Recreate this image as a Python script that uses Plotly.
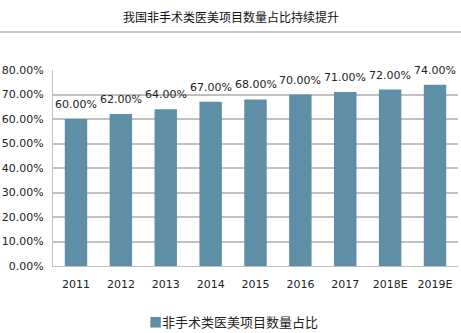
import plotly.graph_objects as go

categories = ["2011", "2012", "2013", "2014", "2015", "2016", "2017", "2018E", "2019E"]
values = [0.60, 0.62, 0.64, 0.67, 0.68, 0.70, 0.71, 0.72, 0.74]
series_name = "非手术类医美项目数量占比"
title = "我国非手术类医美项目数量占比持续提升"

W, H = 461, 333
ml, mr, mt, mb = 53, 3, 70, 67
pw, ph = W - ml - mr, H - mt - mb

font = "Noto Sans CJK SC, DejaVu Sans, sans-serif"
num_font = "DejaVu Sans, sans-serif"
bar_color = "#5f8fa6"

fig = go.Figure()
fig.add_trace(go.Bar(
    x=categories, y=values, name=series_name,
    marker=dict(color=bar_color, line=dict(width=0)),
    width=0.5, showlegend=False,
))

annotations = [
    dict(x=i, y=v, xref="x", yref="y", text=f"{v*100:.2f}%", showarrow=False,
         yanchor="bottom", yshift=6, font=dict(size=11, color="#222222", family=num_font))
    for i, v in enumerate(values)
]
annotations.append(dict(
    xref="paper", yref="paper", x=(233 - ml) / pw, y=(H - mb - 321) / ph,
    xanchor="center", yanchor="middle", showarrow=False,
    text=f"<span style='color:{bar_color}'>■</span>{series_name}",
    font=dict(size=13, color="#222222", family=font),
))
annotations.append(dict(
    xref="paper", yref="paper", x=(231 - ml) / pw, y=(H - mb - 16) / ph,
    xanchor="center", yanchor="middle", showarrow=False,
    text=title, font=dict(size=12, color="#111111", family=font),
))

fig.update_layout(
    width=W, height=H,
    margin=dict(l=ml, r=mr, t=mt, b=mb),
    paper_bgcolor="white", plot_bgcolor="white",
    font=dict(family=font, color="#222222"),
    showlegend=False,
    xaxis=dict(type="category", showline=True, linecolor="#bfbfbf", linewidth=1, ticks="",
               ticklabelstandoff=8,
               tickfont=dict(size=11, color="#222222", family=num_font)),
    yaxis=dict(range=[0, 0.8], dtick=0.1, tickformat=".2%", showgrid=True, gridcolor="#c0c0c0",
               gridwidth=1.5, showline=True, linecolor="#bfbfbf", linewidth=1, zeroline=False,
               ticklabelstandoff=6,
               tickfont=dict(size=11, color="#222222", family=num_font), ticks=""),
    annotations=annotations,
    shapes=[dict(type="line", xref="paper", yref="paper",
                 x0=(0 - ml) / pw, x1=(W - ml) / pw,
                 y0=(H - mb - 32) / ph, y1=(H - mb - 32) / ph,
                 line=dict(color="#c8c8c8", width=2))],
)

fig.write_html("out.html")
